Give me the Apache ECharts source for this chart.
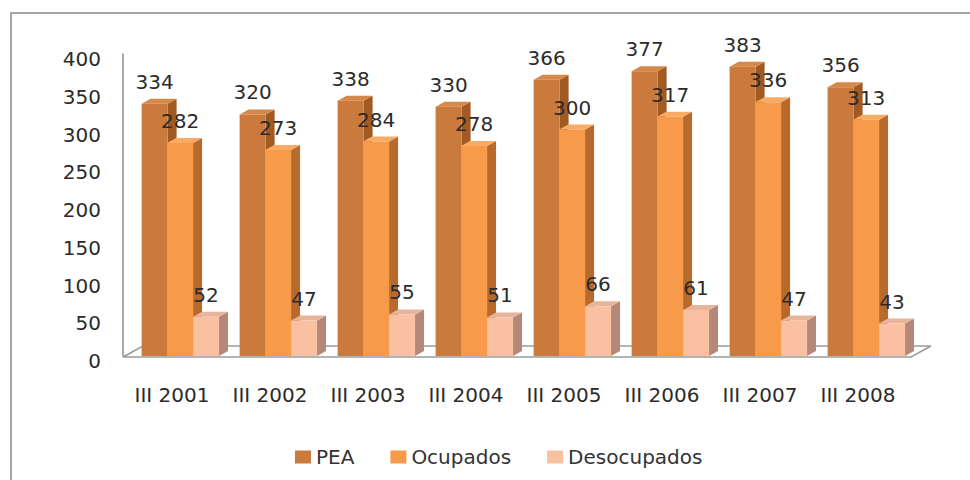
<!DOCTYPE html>
<html>
<head>
<meta charset="utf-8">
<script src="https://cdn.jsdelivr.net/npm/echarts@6/dist/echarts.min.js"></script>
<style>
  html, body { margin: 0; padding: 0; background: #fff; }
  #main { width: 970px; height: 480px; }
</style>
</head>
<body>
<div id="main"></div>
<script>
// datos del gráfico
var categorias = ['III 2001', 'III 2002', 'III 2003', 'III 2004', 'III 2005', 'III 2006', 'III 2007', 'III 2008'];
var pea = [334, 320, 338, 330, 366, 377, 383, 356];
var ocupados = [282, 273, 284, 278, 300, 317, 336, 313];
var desocupados = [52, 47, 55, 51, 66, 61, 47, 43];
var yTicks = [0, 50, 100, 150, 200, 250, 300, 350, 400];

var FONT = 'DejaVu Sans';
var DX = 9, DY = -5; // profundidad de las barras 3D

// barra 3D: cara frontal, lateral y superior
function barra3d(offset, front, side, top) {
  return function (params, api) {
    var cat = api.value(0);
    var val = api.value(1);
    var band = api.size([1, 0])[0];
    var base = api.coord([cat, 0]);
    var tope = api.coord([cat, val]);
    var w = band * 0.265;
    var xL = base[0] + offset * band;
    var xR = xL + w;
    var yT = tope[1];
    var yB = base[1];
    return {
      type: 'group',
      children: [
        {
          type: 'polygon',
          shape: { points: [[xR, yT], [xR + DX, yT + DY], [xR + DX, yB + DY], [xR, yB]] },
          style: { fill: side }
        },
        {
          type: 'polygon',
          shape: { points: [[xL, yT], [xL + DX, yT + DY], [xR + DX, yT + DY], [xR, yT]] },
          style: { fill: top }
        },
        {
          type: 'rect',
          shape: { x: xL, y: yT, width: w, height: yB - yT },
          style: { fill: front }
        },
        {
          type: 'text',
          z2: 10,
          style: {
            text: String(val),
            x: xL + w / 2,
            y: yT - 22,
            textAlign: 'center',
            textVerticalAlign: 'middle',
            fontFamily: FONT,
            fontSize: 20,
            fill: '#2b2b2b'
          }
        }
      ]
    };
  };
}

// piso del gráfico
function piso(params, api) {
  var cs = params.coordSys;
  var x0 = cs.x, y0 = cs.y + cs.height;
  var x1 = cs.x + cs.width;
  return {
    type: 'polygon',
    shape: { points: [[x0, y0 + 1], [x1 + 4, y0 + 1], [x1 + 24, y0 - 10], [x0 + 20, y0 - 10]] },
    style: { fill: '#ffffff', stroke: '#9a9a9a', lineWidth: 1.5 }
  };
}

function toPairs(arr) {
  return arr.map(function (v, i) { return [i, v]; });
}

var chart = echarts.init(document.getElementById('main'), null, { renderer: 'svg' });

var option = {
  backgroundColor: '#ffffff',
  animation: false,
  graphic: [
    {
      type: 'rect',
      shape: { x: 11, y: 13, width: 1000, height: 1000 },
      style: { fill: 'none', stroke: '#a6a6a6', lineWidth: 2 },
      silent: true
    }
  ],
  legend: {
    data: ['PEA', 'Ocupados', 'Desocupados'],
    left: 290,
    top: 442,
    icon: 'rect',
    itemWidth: 16,
    itemHeight: 13,
    itemGap: 36,
    textStyle: { fontFamily: FONT, fontSize: 20, color: '#333333' }
  },
  grid: { left: 123, right: 63, top: 54, bottom: 124 },
  xAxis: {
    type: 'category',
    data: categorias,
    axisLine: { show: false },
    axisTick: { show: false },
    axisLabel: { margin: 29, fontFamily: FONT, fontSize: 20, color: '#2b2b2b' }
  },
  yAxis: {
    type: 'value',
    min: yTicks[0],
    max: yTicks[yTicks.length - 1],
    interval: 50,
    axisLine: { show: true, lineStyle: { color: '#8c8c8c', width: 1.5 } },
    axisTick: { show: false },
    splitLine: { show: false },
    axisLabel: {
      margin: 22,
      verticalAlign: 'top',
      lineHeight: 10,
      fontFamily: FONT,
      fontSize: 20,
      color: '#2b2b2b'
    }
  },
  series: [
    {
      type: 'custom',
      name: 'piso',
      renderItem: piso,
      data: [[0, 0]],
      z: 1,
      silent: true
    },
    {
      type: 'custom',
      name: 'PEA',
      renderItem: barra3d(-0.31, '#c97a3c', '#a05a22', '#d4884a'),
      itemStyle: { color: '#c97a3c' },
      encode: { x: 0, y: 1 },
      data: toPairs(pea),
      z: 2
    },
    {
      type: 'custom',
      name: 'Ocupados',
      renderItem: barra3d(-0.05, '#f79a4a', '#b86a2c', '#f9ab66'),
      itemStyle: { color: '#f79a4a' },
      encode: { x: 0, y: 1 },
      data: toPairs(ocupados),
      z: 3
    },
    {
      type: 'custom',
      name: 'Desocupados',
      renderItem: barra3d(0.215, '#f9c0a2', '#b38878', '#e8b49a'),
      itemStyle: { color: '#f9c0a2' },
      encode: { x: 0, y: 1 },
      data: toPairs(desocupados),
      z: 4
    }
  ]
};

chart.setOption(option);
</script>
</body>
</html>
